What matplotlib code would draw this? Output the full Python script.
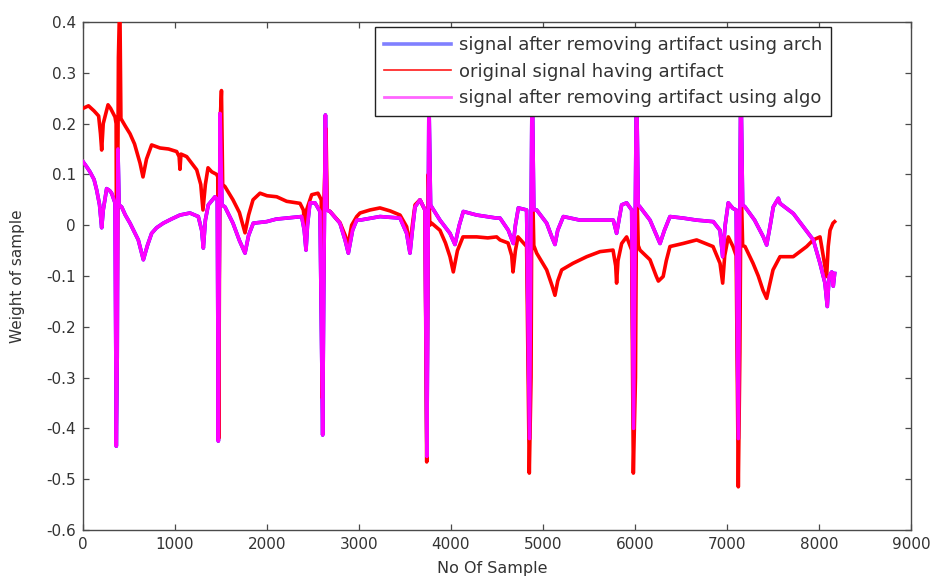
import matplotlib
matplotlib.use("Agg")
import matplotlib.pyplot as plt
from matplotlib.lines import Line2D

# ---------------- data ----------------
red_x = [0, 60, 120, 170, 190, 203, 220, 272, 300, 348,
         360, 368, 385, 400, 412,
         460, 511, 560, 620, 652, 690, 746, 837, 930, 1018, 1045, 1054, 1065, 1127,
         1236, 1280, 1304, 1330, 1359, 1400, 1453,
         1465, 1475, 1490, 1505, 1518,
         1543, 1630, 1700, 1761, 1800, 1848, 1924, 2000, 2105, 2214, 2359, 2395,
         2413, 2430, 2486, 2554, 2590,
         2600, 2620, 2641, 2655,
         2685, 2793, 2850, 2880, 2920, 2975, 3011, 3120, 3228, 3340, 3446, 3518,
         3554, 3580, 3609, 3663, 3717,
         3736, 3753, 3770,
         3790, 3880, 3940, 3989, 4025, 4070, 4130, 4279, 4400, 4496, 4533, 4620,
         4660, 4674, 4700, 4728, 4822,
         4851, 4870, 4880, 4900,
         4931, 5040, 5100, 5130, 5160, 5203, 5326, 5475, 5620, 5761, 5790, 5800,
         5815, 5855, 5909, 5964,
         5982, 6005, 6018, 6035,
         6054, 6163, 6230, 6254, 6306, 6340, 6380, 6522, 6670, 6848, 6924, 6953,
         6975, 7014, 7065, 7100,
         7123, 7140, 7152, 7170,
         7196, 7283, 7340, 7391, 7431, 7460, 7500, 7576, 7720, 7866, 7937, 8011,
         8029, 8065, 8083, 8100, 8120, 8152, 8170]
red_y = [0.230, 0.235, 0.225, 0.215, 0.180, 0.148, 0.200, 0.237, 0.230, 0.213,
         0.200, -0.260, 0.330, 0.450, 0.210,
         0.195, 0.180, 0.160, 0.122, 0.095, 0.130, 0.158, 0.152, 0.150, 0.145, 0.135, 0.110, 0.140, 0.135,
         0.109, 0.080, 0.030, 0.080, 0.113, 0.105, 0.100,
         0.095, -0.420, 0.200, 0.265, 0.080,
         0.076, 0.050, 0.025, -0.015, 0.020, 0.050, 0.063, 0.058, 0.056, 0.047, 0.043, 0.030,
         0.000, 0.030, 0.060, 0.063, 0.050,
         -0.340, 0.050, 0.190, 0.030,
         0.027, 0.005, -0.020, -0.040, 0.000, 0.017, 0.024, 0.030, 0.034, 0.028, 0.020, -0.003,
         -0.040, 0.000, 0.040, 0.050, 0.030,
         -0.466, 0.100, 0.000,
         0.004, -0.010, -0.035, -0.062, -0.092, -0.050, -0.023, -0.023, -0.025, -0.023, -0.029, -0.035,
         -0.060, -0.092, -0.050, -0.023, -0.042,
         -0.488, -0.300, 0.135, -0.040,
         -0.055, -0.088, -0.120, -0.138, -0.110, -0.088, -0.075, -0.062, -0.052, -0.049, -0.080, -0.114,
         -0.070, -0.036, -0.023, -0.049,
         -0.488, -0.300, 0.095, -0.040,
         -0.049, -0.068, -0.100, -0.110, -0.101, -0.070, -0.042, -0.036, -0.029, -0.042, -0.075, -0.114,
         -0.060, -0.023, -0.042, -0.060,
         -0.515, -0.250, 0.095, -0.040,
         -0.042, -0.075, -0.100, -0.128, -0.144, -0.120, -0.088, -0.062, -0.062, -0.042, -0.029, -0.023,
         -0.042, -0.082, -0.101, -0.042, -0.010, 0.004, 0.007]

algo_x = [0, 40, 76, 120, 149, 180, 203, 220, 257, 290, 311, 348,
          362, 372, 380, 392,
          420, 460, 511, 601, 656, 700, 746, 800, 873, 960, 1054, 1163, 1253, 1290,
          1308, 1330, 1362, 1435, 1460,
          1471, 1490, 1510,
          1543, 1630, 1700, 1761, 1800, 1851, 1996, 2100, 2214, 2377, 2405, 2424,
          2440, 2467, 2522, 2576,
          2605, 2618, 2635, 2650,
          2685, 2793, 2850, 2884, 2930, 2975, 3011, 3228, 3446, 3518, 3554, 3580,
          3609, 3663, 3717,
          3738, 3760, 3778,
          3790, 3880, 3989, 4043, 4090, 4134, 4279, 4496, 4533, 4623, 4677, 4700,
          4732, 4822,
          4853, 4882, 4900,
          4931, 5040, 5100, 5130, 5160, 5221, 5402, 5620, 5764, 5800, 5855, 5909, 5964,
          5984, 6016, 6035,
          6054, 6163, 6272, 6320, 6380, 6522, 6670, 6851, 6924, 6953, 6980, 7014,
          7065, 7100,
          7123, 7150, 7170,
          7196, 7300, 7395, 7431, 7470, 7503, 7558, 7576, 7721, 7830, 7938, 8011,
          8065, 8090, 8110, 8138, 8155, 8170]
algo_y = [0.125, 0.115, 0.105, 0.090, 0.069, 0.040, -0.005, 0.030, 0.072, 0.068, 0.063, 0.044,
          -0.435, -0.260, 0.150, 0.040,
          0.036, 0.020, 0.004, -0.029, -0.068, -0.040, -0.016, -0.005, 0.004, 0.012, 0.020, 0.024, 0.017, -0.010,
          -0.045, 0.010, 0.040, 0.056, 0.050,
          -0.425, 0.220, 0.040,
          0.036, 0.004, -0.030, -0.055, -0.020, 0.004, 0.007, 0.012, 0.014, 0.017, -0.010, -0.049,
          0.000, 0.044, 0.044, 0.027,
          -0.413, -0.100, 0.217, 0.030,
          0.027, 0.004, -0.030, -0.055, -0.010, 0.010, 0.010, 0.017, 0.014, -0.016, -0.055, -0.010,
          0.036, 0.050, 0.030,
          -0.455, 0.250, 0.040,
          0.036, 0.010, -0.016, -0.038, 0.000, 0.027, 0.020, 0.014, 0.014, -0.010, -0.036, 0.000,
          0.034, 0.030,
          -0.420, 0.300, 0.030,
          0.030, 0.004, -0.025, -0.038, -0.010, 0.017, 0.010, 0.010, 0.010, -0.016, 0.040, 0.044, 0.030,
          -0.400, 0.300, 0.040,
          0.036, 0.010, -0.036, -0.010, 0.017, 0.014, 0.010, 0.007, -0.010, -0.062, 0.000, 0.044,
          0.033, 0.030,
          -0.420, 0.300, 0.040,
          0.036, 0.010, -0.023, -0.039, 0.000, 0.036, 0.053, 0.043, 0.023, -0.003, -0.029, -0.075,
          -0.114, -0.160, -0.101, -0.092, -0.120, -0.095]

# the "arch" result lies under the "algo" result almost everywhere
arch_x = list(algo_x)
arch_y = list(algo_y)

x_ticks = [0, 1000, 2000, 3000, 4000, 5000, 6000, 7000, 8000, 9000]
y_ticks = [0.4, 0.3, 0.2, 0.1, 0.0, -0.1, -0.2, -0.3, -0.4, -0.5, -0.6]
y_tick_labels = ["0.4", "0.3", "0.2", "0.1", "0", "-0.1", "-0.2", "-0.3", "-0.4", "-0.5", "-0.6"]
legend_labels = ["signal after removing artifact using arch",
                 "original signal having artifact",
                 "signal after removing artifact using algo"]

# ---------------- figure ----------------
plt.rcParams['font.family'] = ['DejaVu Sans']
W, H = 935, 580
fig = plt.figure(figsize=(W / 100, H / 100), dpi=100)
ax = fig.add_axes([83 / W, 1 - 530 / H, 828 / W, 508 / H])

ax.plot(arch_x, arch_y, color='#0000ff', lw=2.6, zorder=2)
ax.plot(red_x, red_y, color='#ff0000', lw=2.6, zorder=3)
ax.plot(algo_x, algo_y, color='#ff00ff', lw=2.6, zorder=4)

ax.set_xlim(0, 9000)
ax.set_ylim(-0.6, 0.4)
ax.set_xticks(x_ticks)
ax.set_xticklabels([str(t) for t in x_ticks])
ax.set_yticks(y_ticks)
ax.set_yticklabels(y_tick_labels)

axis_col = '#4a4a4a'
for s in ax.spines.values():
    s.set_color(axis_col)
    s.set_linewidth(1.0)
ax.tick_params(direction='in', length=4, width=0.9, color=axis_col,
               top=True, right=True, labelsize=11, labelcolor='#333333', pad=5)

ax.set_xlabel("No Of Sample", fontsize=11.5, color='#333333')
ax.xaxis.set_label_coords(0.494, -0.062)
ax.set_ylabel("Weight of sample", fontsize=11, color='#333333')
ax.yaxis.set_label_coords(-0.07, 0.5)

handles = [Line2D([], [], color='#8080ff', lw=2.6),
           Line2D([], [], color='#ff1a1a', lw=1.2),
           Line2D([], [], color='#ff66ff', lw=2.0)]
leg = ax.legend(handles, legend_labels, loc='upper left',
                bbox_to_anchor=(292 / 828, 503 / 508), borderaxespad=0,
                fontsize=13, handlelength=3.7, handletextpad=0.45,
                labelspacing=0.48, borderpad=0.5, fancybox=False,
                framealpha=1, edgecolor='#222222')
leg.get_frame().set_linewidth(1.0)
for t in leg.get_texts():
    t.set_color('#333333')
leg.set_zorder(10)

fig.savefig("out.png", dpi=100)
